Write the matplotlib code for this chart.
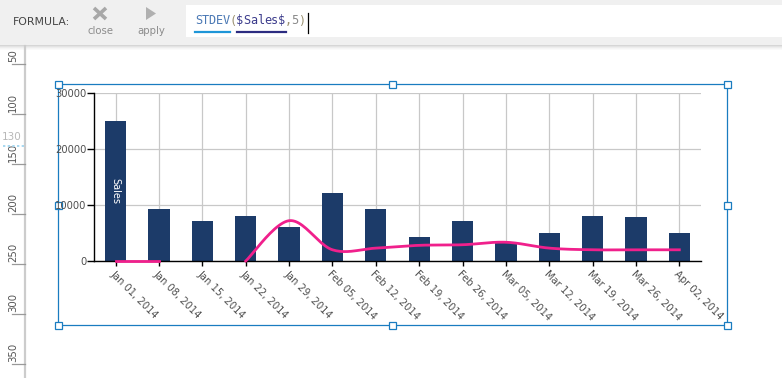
import numpy as np
import matplotlib
matplotlib.use("Agg")
from matplotlib import pyplot as plt
from matplotlib.patches import Rectangle, Polygon

# data
dates = ["Jan 01, 2014", "Jan 08, 2014", "Jan 15, 2014", "Jan 22, 2014",
         "Jan 29, 2014", "Feb 05, 2014", "Feb 12, 2014", "Feb 19, 2014",
         "Feb 26, 2014", "Mar 05, 2014", "Mar 12, 2014", "Mar 19, 2014",
         "Mar 26, 2014", "Apr 02, 2014"]
sales = [25000, 9200, 7200, 8100, 6100, 12200, 9200, 4200, 7200, 3200,
         5000, 8100, 7900, 5000]
stdev5 = [0, 0, None, 0, 7200, 2000, 2300, 2800, 2900, 3350, 2300, 2000,
          2000, 2000]
y_ticks = [0, 10000, 20000, 30000]
ruler_ticks = [50, 100, 150, 200, 250, 300, 350]

W, H = 782, 378
fig = plt.figure(figsize=(W / 100, H / 100), dpi=100)
fig.patch.set_facecolor("white")

# background layer in pixel coordinates (x right, y down)
bg = fig.add_axes([0, 0, 1, 1])
bg.set_xlim(0, W)
bg.set_ylim(H, 0)
bg.axis("off")

# toolbar
bg.add_patch(Rectangle((0, 0), W, 45, fc="#f0f0f0", ec="none", zorder=1))
for i, a in enumerate([0.16, 0.11, 0.07, 0.04, 0.02]):
    bg.add_patch(Rectangle((0, 45 + i), W, 1, fc="black", alpha=a, ec="none", zorder=1))
bg.add_patch(Rectangle((186, 5), W - 186, 32, fc="white", ec="none", zorder=2))
bg.text(13, 22, "FORMULA:", fontsize=7.8, color="#444444", va="center", ha="left", zorder=3)
bg.plot([94, 106], [8, 19], color="#a8a8a8", lw=2.6, solid_capstyle="butt", zorder=3)
bg.plot([94, 106], [19, 8], color="#a8a8a8", lw=2.6, solid_capstyle="butt", zorder=3)
bg.text(100, 31, "close", fontsize=7.3, color="#8c8c8c", ha="center", va="center", zorder=3)
bg.add_patch(Polygon([[146, 7], [146, 20], [156, 13.5]], closed=True, fc="#b0b0b0", ec="none", zorder=3))
bg.text(151, 31, "apply", fontsize=7.3, color="#8c8c8c", ha="center", va="center", zorder=3)

formula = "STDEV($Sales$,5)"
fcols = ["#4a78b4"] * 5 + ["#9a9070"] + ["#3c3c8c"] * 7 + ["#9a9070", "#8a8a8a", "#9a9070"]
for i, (ch, c) in enumerate(zip(formula, fcols)):
    bg.text(195 + i * 6.9 + 3.4, 21, ch, fontsize=8.6, family="DejaVu Sans Mono",
            color=c, ha="center", va="center", zorder=3)
bg.plot([195, 230], [31.5, 31.5], color="#1e96d8", lw=1.6, zorder=3)
bg.plot([237, 286], [31.5, 31.5], color="#2b2b80", lw=1.6, zorder=3)
bg.plot([307.5, 307.5], [13, 33], color="black", lw=0.9, zorder=3)

# left ruler
bg.plot([25, 25], [46, H], color="#cccccc", lw=1.6, zorder=1)
for r in ruler_ticks:
    yy = r + 14
    bg.plot([12, 25], [yy, yy], color="#999999", lw=0.9, zorder=1)
    bg.text(13, yy - 2, str(r), rotation=90, fontsize=7.3, color="#555555",
            ha="center", va="bottom", zorder=1)
bg.plot([3, 25], [146, 146], color="#a8d8f0", lw=1.4, ls=(0, (1.2, 1.2)), zorder=1)
bg.text(12, 137, "130", fontsize=7.5, color="#b8b8b8", ha="center", va="center", zorder=1)

# selection frame
sel = "#1a7cc0"
bg.add_patch(Rectangle((58, 84), 669, 241, fill=False, ec=sel, lw=0.9, zorder=1))
for hx, hy in [(58, 84), (392, 84), (727, 84), (58, 205), (727, 205),
               (58, 325), (392, 325), (727, 325)]:
    bg.add_patch(Rectangle((hx - 3.5, hy - 3.5), 7, 7, fc="white", ec=sel, lw=0.9, zorder=5))

# chart
ax = fig.add_axes([94 / W, 1 - 261 / H, 607 / W, 168 / H])
ax.set_facecolor("white")
x = np.arange(len(dates))
ax.bar(x, sales, width=0.49, color="#1c3b69", zorder=2)
ax.text(x[0], sales[0] / 2, "Sales", rotation=-90, color="white", fontsize=7,
        ha="center", va="center", zorder=3)


def catmull(xs, ys, n=24):
    px = np.concatenate([[xs[0]], xs, [xs[-1]]])
    py = np.concatenate([[ys[0]], ys, [ys[-1]]])
    ox, oy = [], []
    for i in range(1, len(px) - 2):
        t = np.linspace(0, 1, n)
        for arr, out in ((px, ox), (py, oy)):
            p0, p1, p2, p3 = arr[i - 1], arr[i], arr[i + 1], arr[i + 2]
            out.extend(0.5 * (2 * p1 + (-p0 + p2) * t
                              + (2 * p0 - 5 * p1 + 4 * p2 - p3) * t ** 2
                              + (-p0 + 3 * p1 - 3 * p2 + p3) * t ** 3))
    return ox, oy


# split the line at missing values and smooth each piece
seg_x, seg_y = [], []
for i in range(len(stdev5) + 1):
    v = stdev5[i] if i < len(stdev5) else None
    if v is None:
        if len(seg_x) > 1:
            sx, sy = catmull(np.array(seg_x, float), np.array(seg_y, float))
            ax.plot(sx, sy, color="#f0208c", lw=2.0, zorder=4, clip_on=False)
        seg_x, seg_y = [], []
    else:
        seg_x.append(x[i])
        seg_y.append(v)

ax.set_xlim(-0.5, len(dates) - 0.5)
ax.set_ylim(0, 30000)
ax.set_yticks(y_ticks)
ax.set_yticklabels([str(v) for v in y_ticks])
ax.set_xticks(x)
ax.set_xticklabels(dates, rotation=-45, ha="left", va="top", rotation_mode="anchor")
ax.grid(True, color="#c8c8c8", lw=0.9, zorder=0)
ax.set_axisbelow(True)
for s in ["top", "right"]:
    ax.spines[s].set_visible(False)
for s in ["left", "bottom"]:
    ax.spines[s].set_color("black")
    ax.spines[s].set_linewidth(1.0)
ax.tick_params(axis="both", width=1, color="black", labelsize=7.2, labelcolor="#505050")
ax.tick_params(axis="y", length=5, pad=0.5)
ax.tick_params(axis="x", length=3.5, pad=2)

fig.savefig("out.png", dpi=100)
